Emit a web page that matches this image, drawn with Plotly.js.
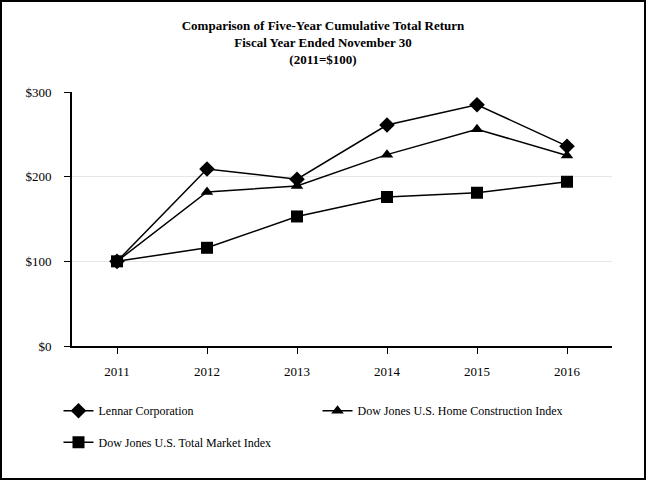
<!DOCTYPE html>
<html>
<head>
<meta charset="utf-8">
<script src="https://cdn.plot.ly/plotly-3.0.1.min.js"></script>
<style>
html,body{margin:0;padding:0;background:#fff;}
#wrap{position:relative;width:646px;height:480px;}
#chart{width:646px;height:480px;}
#frame{position:absolute;left:0;top:0;width:646px;height:480px;box-sizing:border-box;border:2px solid #000;pointer-events:none;}
</style>
</head>
<body>
<div id="wrap"><div id="chart"></div><div id="frame"></div></div>
<script>
const years = [2011, 2012, 2013, 2014, 2015, 2016];
const lennar = [100, 209, 197, 261, 285, 236];
const homeConstruction = [100, 182, 189, 226, 256, 225];
const totalMarket = [100, 116, 153, 176, 181, 194];
const seriesNames = ["Lennar Corporation", "Dow Jones U.S. Home Construction Index", "Dow Jones U.S. Total Market Index"];
const yTicks = [0, 100, 200, 300];
const yTickLabels = ["$0", "$100", "$200", "$300"];

const font = "Liberation Serif, Times New Roman, serif";
const lineStyle = {color: "#000", width: 1.5};

const traces = [
  {x: years, y: lennar, name: seriesNames[0], mode: "lines+markers", line: lineStyle,
   marker: {symbol: "diamond", size: 12, color: "#000"}, legend: "legend"},
  {x: years, y: homeConstruction, name: seriesNames[1], mode: "lines+markers", line: lineStyle,
   marker: {symbol: "triangle-up", size: 11, color: "#000"}, legend: "legend"},
  {x: years, y: totalMarket, name: seriesNames[2], mode: "lines+markers", line: lineStyle,
   marker: {symbol: "square", size: 12, color: "#000"}, legend: "legend2"}
];

const legendCommon = {
  orientation: "h", xanchor: "left", yanchor: "top",
  font: {family: font, size: 12, color: "#000"},
  bgcolor: "rgba(0,0,0,0)", entrywidth: 214, entrywidthmode: "pixels", traceorder: "normal"
};

const layout = {
  width: 646, height: 480,
  margin: {l: 72, r: 34, t: 92, b: 134},
  paper_bgcolor: "#fff", plot_bgcolor: "#fff",
  font: {family: font, size: 13, color: "#000"},
  title: {
    text: "<b>Comparison of Five-Year Cumulative Total Return</b><br><b>Fiscal Year Ended November 30</b><br><b>(2011=$100)</b>",
    font: {family: font, size: 13, color: "#000"},
    x: 0.5, xanchor: "center", y: 0.938, yanchor: "top"
  },
  xaxis: {
    range: [2010.5, 2016.5], tickmode: "array", tickvals: years, ticktext: years.map(String),
    showgrid: false, zeroline: false, showline: true, linecolor: "#000", linewidth: 2,
    ticks: "outside", ticklen: 6, tickwidth: 1, tickcolor: "#000", ticklabelstandoff: 6,
    tickfont: {family: font, size: 13, color: "#000"}, fixedrange: true
  },
  yaxis: {
    range: [0, 300], tickmode: "array", tickvals: yTicks, ticktext: yTickLabels,
    showgrid: true, gridcolor: "#e6e6e6", gridwidth: 1.5, zeroline: false,
    showline: true, linecolor: "#000", linewidth: 2,
    ticks: "outside", ticklen: 6, tickwidth: 1, tickcolor: "#000", ticklabelstandoff: 10,
    tickfont: {family: font, size: 13, color: "#000"}, fixedrange: true
  },
  legend: Object.assign({}, legendCommon, {x: -0.025, y: -0.198}),
  legend2: Object.assign({}, legendCommon, {x: -0.025, y: -0.322}),
  showlegend: true
};

Plotly.newPlot("chart", traces, layout, {displayModeBar: false, staticPlot: true});
</script>
</body>
</html>
